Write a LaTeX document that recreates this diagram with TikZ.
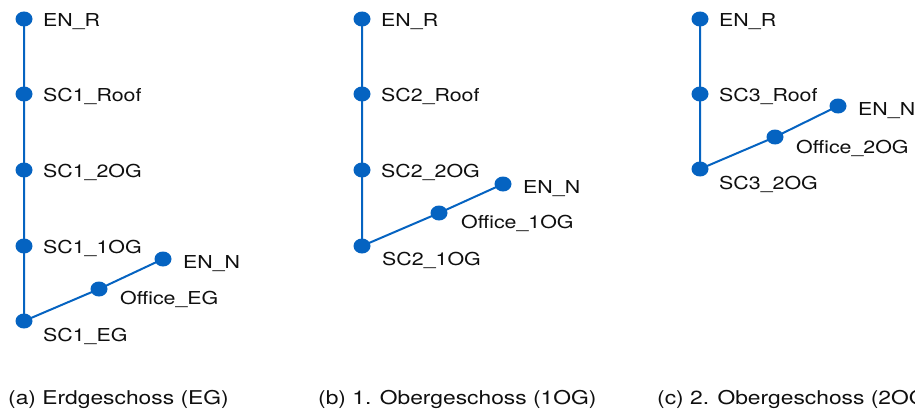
\documentclass[tikz,border=0pt]{standalone}
\usepackage{fontspec}
\setmainfont{TeX Gyre Heros}[FakeStretch=1.2]
\usetikzlibrary{calc,shapes.geometric}
\definecolor{netblue}{RGB}{5,99,193}
\definecolor{ink}{RGB}{15,15,15}
\begin{document}
\begin{tikzpicture}[x=1pt,y=-1pt,
  bus/.style={ellipse,fill=netblue,draw=none,minimum width=17pt,minimum height=15pt,inner sep=0pt},
  wire/.style={netblue,line width=2pt},
  lbl/.style={anchor=base west,inner sep=0pt,text=ink,font=\fontsize{17.8}{21}\selectfont},
  subcap/.style={anchor=base west,inner sep=0pt,text=ink,font=\fontsize{19}{23}\selectfont}]
\useasboundingbox (0,0) rectangle (915,412);
\clip (0,0) rectangle (915,412);

% (a) ground floor
\node[bus] (aR)  at (24,19)  {};
\node[bus] (aRf) at (24,94)  {};
\node[bus] (a2)  at (24,170) {};
\node[bus] (a1)  at (24,246) {};
\node[bus] (aE)  at (24,321) {};
\node[bus] (aO)  at (99,289) {};
\node[bus] (aN)  at (163,259) {};
\draw[wire] (aR.center) -- (aRf.center) -- (a2.center) -- (a1.center) -- (aE.center) -- (aO.center) -- (aN.center);
\node[lbl] at ($(aR)+(19,7.5)$)  {EN\_R};
\node[lbl] at ($(aRf)+(19,7.5)$) {SC1\_Roof};
\node[lbl] at ($(a2)+(19,7.5)$)  {SC1\_2OG};
\node[lbl] at ($(a1)+(19,7.5)$)  {SC1\_1OG};
\node[lbl] at ($(aE)+(19,20)$)   {SC1\_EG};
\node[lbl] at ($(aO)+(21,15)$)   {Office\_EG};
\node[lbl] at ($(aN)+(20,9)$)    {EN\_N};
\node[subcap] (capA) at (8,404) {(a) Erdgeschoss (EG)};

% (b) first upper floor
\node[bus] (bR)  at (362,19)  {};
\node[bus] (bRf) at (362,94)  {};
\node[bus] (b2)  at (362,170) {};
\node[bus] (b1)  at (362,246) {};
\node[bus] (bO)  at (439,213) {};
\node[bus] (bN)  at (503,184) {};
\draw[wire] (bR.center) -- (bRf.center) -- (b2.center) -- (b1.center) -- (bO.center) -- (bN.center);
\node[lbl] at ($(bR)+(19,7.5)$)  {EN\_R};
\node[lbl] at ($(bRf)+(19,7.5)$) {SC2\_Roof};
\node[lbl] at ($(b2)+(19,7.5)$)  {SC2\_2OG};
\node[lbl] at ($(b1)+(20,19)$)   {SC2\_1OG};
\node[lbl] at ($(bO)+(22,15)$)   {Office\_1OG};
\node[lbl] at ($(bN)+(20,9)$)    {EN\_N};
\node[subcap] (capB) at (318,404) {(b) 1. Obergeschoss (1OG)};

% (c) second upper floor
\node[bus] (cR)  at (700,19)  {};
\node[bus] (cRf) at (700,94)  {};
\node[bus] (c2)  at (700,169) {};
\node[bus] (cO)  at (775,137) {};
\node[bus] (cN)  at (838,106) {};
\draw[wire] (cR.center) -- (cRf.center) -- (c2.center) -- (cO.center) -- (cN.center);
\node[lbl] at ($(cR)+(19,7.5)$)  {EN\_R};
\node[lbl] at ($(cRf)+(19,7.5)$) {SC3\_Roof};
\node[lbl] at ($(c2)+(19,20)$)   {SC3\_2OG};
\node[lbl] at ($(cO)+(21,16)$)   {Office\_2OG};
\node[lbl] at ($(cN)+(20,9)$)    {EN\_N};
\node[subcap] (capC) at (657,404) {(c) 2. Obergeschoss (2OG)};
\end{tikzpicture}
\end{document}
